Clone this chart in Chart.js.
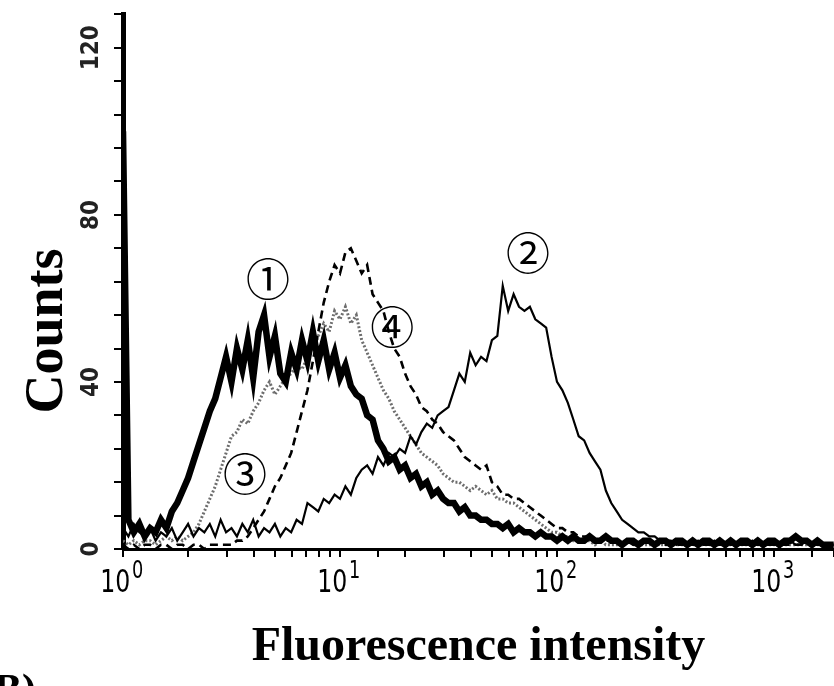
<!DOCTYPE html>
<html>
<head>
<meta charset="utf-8">
<title>Counts vs Fluorescence intensity</title>
<script src="https://cdn.jsdelivr.net/npm/chart.js@4.4.1/dist/chart.umd.min.js"></script>
<style>
  html, body { margin: 0; padding: 0; background: #fff; overflow: hidden; }
  canvas { display: block; }
</style>
</head>
<body>
<canvas id="histChart" width="834" height="686"></canvas>
<script>
// Kanály intenzity fluorescence (osa x, logaritmická).
const intensity = [
    1, 1.059, 1.122, 1.189, 1.259, 1.334, 1.413, 1.496, 1.585, 1.679,
    1.778, 1.884, 1.995, 2.113, 2.239, 2.371, 2.512, 2.661, 2.818, 2.985,
    3.162, 3.350, 3.548, 3.758, 3.981, 4.217, 4.467, 4.732, 5.012, 5.309,
    5.623, 5.957, 6.310, 6.683, 7.079, 7.499, 7.943, 8.414, 8.913, 9.441,
    10, 10.59, 11.22, 11.89, 12.59, 13.34, 14.13, 14.96, 15.85, 16.79,
    17.78, 18.84, 19.95, 21.13, 22.39, 23.71, 25.12, 26.61, 28.18, 29.85,
    31.62, 33.50, 35.48, 37.58, 39.81, 42.17, 44.67, 47.32, 50.12, 53.09,
    56.23, 59.57, 63.10, 66.83, 70.79, 74.99, 79.43, 84.14, 89.13, 94.41,
    100, 105.9, 112.2, 118.9, 125.9, 133.4, 141.3, 149.6, 158.5, 167.9,
    177.8, 188.4, 199.5, 211.3, 223.9, 237.1, 251.2, 266.1, 281.8, 298.5,
    316.2, 335.0, 354.8, 375.8, 398.1, 421.7, 446.7, 473.2, 501.2, 530.9,
    562.3, 595.7, 631.0, 668.3, 707.9, 749.9, 794.3, 841.4, 891.3, 944.1,
    1000, 1059, 1122, 1189, 1259, 1334, 1413, 1496, 1585, 1679,
    1778, 1884
];

// Počty pro křivku ① (tlustá plná čára).
const counts1 = [
    100, 7, 4, 6, 3, 5, 4, 7, 5, 9,
    11, 14, 17, 21, 25, 29, 33, 36, 41, 46,
    40, 48, 43, 50, 41, 52, 56, 46, 51, 42,
    40, 47, 43, 50, 45, 52, 45, 50, 43, 47,
    41, 44, 39, 37, 36, 32, 31, 26, 24, 21,
    22, 19, 20, 17, 18, 15, 16, 13, 14, 12,
    11, 11, 9, 10, 8, 8, 7, 7, 6, 6,
    5, 6, 4, 5, 4, 4, 3, 4, 3, 3,
    2, 3, 2, 3, 2, 2, 3, 2, 2, 3,
    2, 2, 1, 2, 2, 1, 2, 2, 1, 2,
    2, 1, 2, 2, 1, 2, 1, 2, 2, 1,
    2, 1, 2, 1, 2, 2, 1, 2, 1, 2,
    2, 1, 2, 2, 3, 2, 2, 1, 2, 1,
    1, 1
];

// Počty pro křivku ② (tenká plná čára).
const counts2 = [
    5, 3, 6, 4, 3, 5, 2, 4, 3, 5,
    2, 4, 6, 3, 5, 4, 6, 3, 7, 4,
    5, 3, 6, 4, 7, 3, 5, 4, 6, 3,
    5, 4, 7, 6, 11, 10, 9, 12, 11, 13,
    12, 15, 13, 17, 19, 20, 18, 22, 20, 23,
    22, 24, 23, 27, 25, 28, 30, 29, 32, 33,
    34, 38, 42, 40, 47, 44, 46, 45, 50, 51,
    63, 57, 61, 58, 57, 58, 55, 54, 53, 46,
    40, 38, 35, 31, 27, 26, 23, 21, 19, 14,
    11, 9, 7, 6, 5, 4, 4, 3, 3, 2,
    2, 2, 1, 2, 1, 1, 2, 1, 1, 2,
    1, 1, 2, 1, 1, 1, 2, 1, 1, 1,
    2, 1, 1, 2, 1, 1, 2, 1, 1, 1,
    1, 1
];

// Počty pro křivku ③ (šedá tečkovaná čára).
const counts3 = [
    2, 1, 2, 1, 2, 2, 1, 2, 3, 2,
    3, 2, 3, 4, 6, 9, 12, 15, 19, 23,
    27, 28, 31, 30, 33, 35, 38, 40, 37, 39,
    41, 42, 44, 43, 46, 48, 51, 54, 52, 57,
    55, 58, 54, 56, 50, 47, 44, 41, 38, 36,
    33, 31, 29, 27, 25, 23, 22, 21, 20, 18,
    17, 16, 16, 15, 14, 15, 14, 13, 14, 12,
    12, 11, 11, 10, 9, 8, 7, 6, 5, 4,
    4, 3, 3, 2, 2, 2, 2, 1, 2, 1,
    1, 1, 1, 2, 1, 1, 1, 1, 1, 1,
    1, 1, 1, 1, 1, 1, 1, 1, 1, 1,
    1, 1, 1, 1, 1, 1, 1, 1, 1, 1,
    1, 1, 1, 1, 1, 1, 1, 1, 1, 1,
    1, 1
];

// Počty pro křivku ④ (černá čárkovaná čára).
const counts4 = [
    1, 0, 1, 0, 1, 1, 0, 1, 1, 0,
    1, 1, 0, 1, 1, 0, 1, 1, 1, 1,
    1, 2, 2, 3, 5, 7, 9, 12, 15, 17,
    20, 23, 28, 33, 38, 45, 52, 59, 64, 68,
    66, 71, 72, 69, 66, 68, 61, 59, 57, 52,
    48, 46, 42, 39, 37, 34, 33, 31, 30, 28,
    27, 26, 24, 22, 21, 20, 19, 20, 16, 15,
    13, 13, 12, 12, 11, 10, 9, 8, 7, 6,
    5, 5, 4, 4, 3, 3, 3, 2, 2, 2,
    2, 2, 1, 2, 1, 1, 2, 1, 1, 1,
    1, 1, 1, 1, 1, 1, 1, 1, 1, 1,
    1, 1, 1, 1, 1, 1, 1, 1, 1, 1,
    1, 1, 1, 1, 1, 1, 1, 1, 1, 1,
    1, 1
];

// Popisky os a dekády osy x.
const yTitle = 'Counts';
const xTitle = 'Fluorescence intensity';
const decadeTicks = [1, 10, 100, 1000];
const yLabelTicks = [0, 40, 80, 120];

// Očíslování křivek a jejich umístění v jednotkách dat.
const curveNames = ['①', '②', '③', '④'];
const curveNameX = [4.66, 73.5, 3.65, 17.4];
const curveNameY = [64.5, 70.7, 17.8, 53.1];

const narrowFont = '"Liberation Sans Narrow", "DejaVu Sans Condensed", "Liberation Sans", sans-serif';

// Převede pole hodnot na body {x, y}.
function toPoints(counts) {
    return counts.map(function(c, i) {
        return { x: intensity[i], y: c };
    });
}

// Plugin pro texty, které Chart.js neumí: horní indexy, otočený titulek, značky křivek.
const extraTextPlugin = {
    id: 'extraText',
    afterDraw: function(chart) {
        const ctx = chart.ctx;
        const xScale = chart.scales.x;
        const yScale = chart.scales.y;
        ctx.save();
        ctx.fillStyle = '#000';

        // Popisky dekád 10^n (zúžené písmo)
        decadeTicks.forEach(function(v) {
            const px = xScale.getPixelForValue(v);
            ctx.save();
            ctx.translate(px, 0);
            ctx.scale(0.82, 1);
            ctx.textBaseline = 'alphabetic';
            ctx.font = '32px ' + narrowFont;
            ctx.textAlign = 'right';
            ctx.fillText('10', 9, 592);
            ctx.font = '24px ' + narrowFont;
            ctx.textAlign = 'left';
            ctx.fillText(String(Math.round(Math.log10(v))), 11, 578);
            ctx.restore();
        });

        // Titulek osy y
        ctx.save();
        ctx.translate(48, 331);
        ctx.rotate(-Math.PI / 2);
        ctx.font = 'bold 54px "Liberation Serif", "Times New Roman", serif';
        ctx.textAlign = 'center';
        ctx.textBaseline = 'middle';
        ctx.fillText(yTitle, 0, 0);
        ctx.restore();

        // Značky křivek
        ctx.font = '44px "Noto Sans CJK JP", "DejaVu Sans", sans-serif';
        ctx.textAlign = 'center';
        ctx.textBaseline = 'middle';
        curveNames.forEach(function(name, i) {
            ctx.fillText(name, xScale.getPixelForValue(curveNameX[i]), yScale.getPixelForValue(curveNameY[i]));
        });

        // Useknutý popisek panelu dole vlevo
        ctx.font = 'bold 42px "Liberation Serif", serif';
        ctx.textAlign = 'left';
        ctx.textBaseline = 'alphabetic';
        ctx.fillText('B)', -6, 703);
        ctx.restore();
    }
};

document.addEventListener('DOMContentLoaded', function() {
    let ctx = document.getElementById('histChart').getContext('2d');
    // noinspection JSUnresolvedReference
    let histChart = new Chart(ctx, {
        type: 'line',
        data: {
            datasets: [{
                label: '①',
                data: toPoints(counts1),
                borderColor: '#000',
                borderWidth: 6.5,
                order: 0
            }, {
                label: '②',
                data: toPoints(counts2),
                borderColor: '#000',
                borderWidth: 2.2,
                order: 2
            }, {
                label: '③',
                data: toPoints(counts3),
                borderColor: '#6e6e6e',
                borderWidth: 3,
                borderDash: [2, 2],
                order: 3
            }, {
                label: '④',
                data: toPoints(counts4),
                borderColor: '#000',
                borderWidth: 2.6,
                borderDash: [8, 5],
                order: 1
            }]
        },
        options: {
            responsive: false,
            animation: false,
            layout: { padding: { top: 11, right: 0, bottom: 0, left: 0 } },
            elements: {
                point: { radius: 0 },
                line: { tension: 0, fill: false, borderJoinStyle: 'miter' }
            },
            plugins: {
                legend: { display: false },
                tooltip: { enabled: false }
            },
            scales: {
                x: {
                    type: 'logarithmic',
                    min: 1,
                    max: 1890,
                    afterFit: function(scale) { scale.height = 137; },
                    border: { display: true, color: '#000', width: 3 },
                    grid: {
                        drawOnChartArea: false,
                        drawTicks: true,
                        tickLength: 8,
                        color: '#000',
                        lineWidth: 2
                    },
                    ticks: { display: false, autoSkip: false },
                    title: {
                        display: true,
                        text: xTitle,
                        color: '#000',
                        font: { family: '"Liberation Serif", "Times New Roman", serif', size: 48, weight: 'bold' },
                        padding: { top: 0, bottom: 10 }
                    }
                },
                y: {
                    type: 'linear',
                    min: 0,
                    max: 128,
                    afterFit: function(scale) { scale.width = 123; },
                    border: { display: true, color: '#000', width: 5 },
                    grid: {
                        drawOnChartArea: false,
                        drawTicks: true,
                        tickLength: 9,
                        color: '#000',
                        lineWidth: 2
                    },
                    ticks: {
                        stepSize: 8,
                        autoSkip: false,
                        minRotation: 90,
                        maxRotation: 90,
                        crossAlign: 'center',
                        padding: 0,
                        color: '#222',
                        font: { family: narrowFont, size: 24, weight: 'bold' },
                        callback: function(value) {
                            return yLabelTicks.indexOf(value) >= 0 ? String(value) : '';
                        }
                    }
                }
            }
        },
        plugins: [extraTextPlugin]
    });
});
</script>
</body>
</html>
